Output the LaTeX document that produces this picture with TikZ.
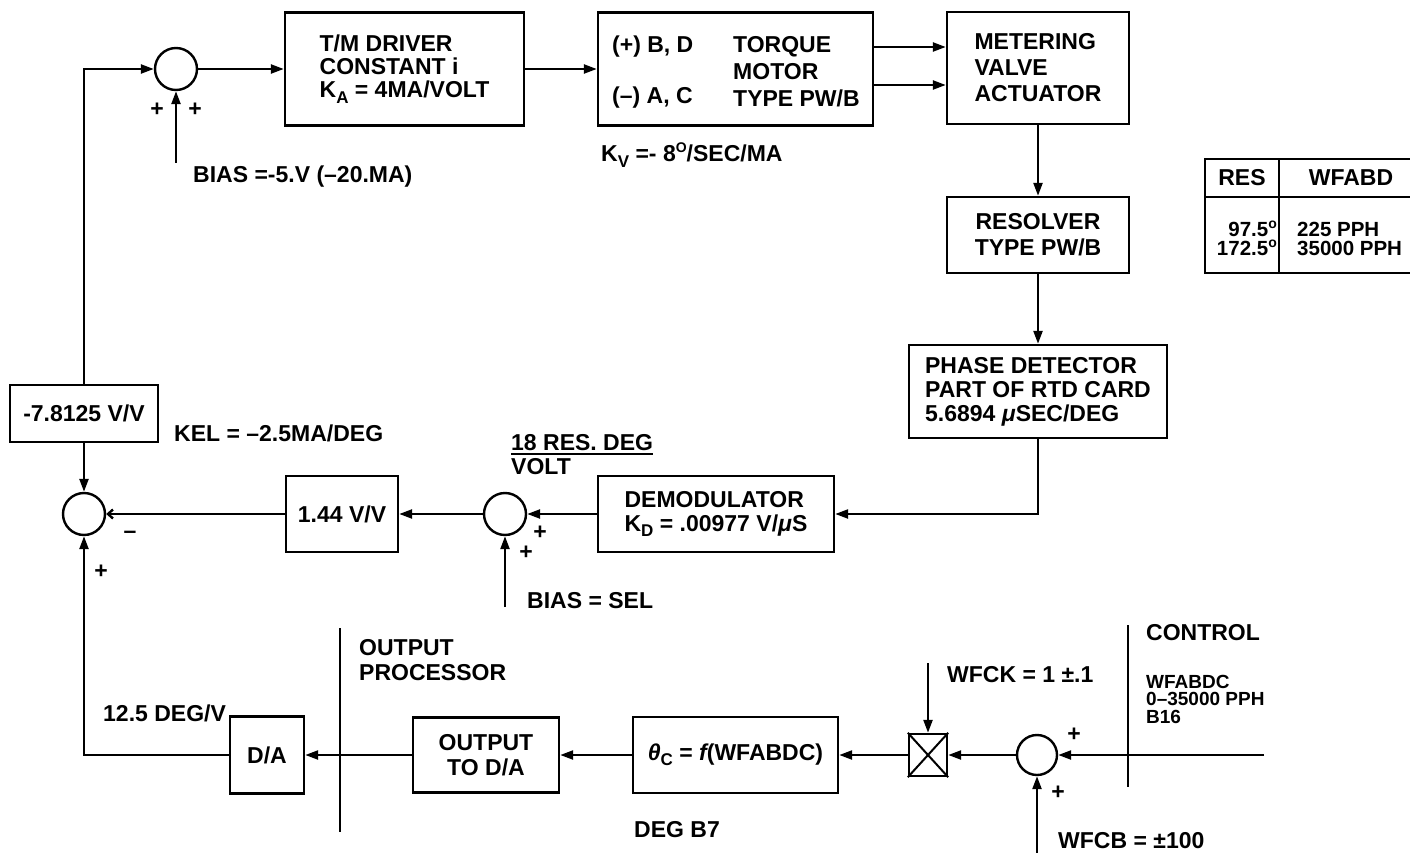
\documentclass[tikz,border=0pt]{standalone}
\usepackage{fontspec}
\setmainfont{Liberation Sans}
\usetikzlibrary{arrows.meta}
\newcommand\lsub[1]{\raisebox{-0.45ex}{\fontsize{17}{17}\selectfont #1}}
\newcommand\hsup[1]{\raisebox{0.75ex}{\fontsize{14}{14}\selectfont #1}}
\begin{document}
\begin{tikzpicture}[x=1pt,y=-1pt,
  every node/.style={font=\fontsize{23}{25}\selectfont\bfseries},
  blk/.style={draw, line width=2.4pt, rectangle, inner sep=0pt},
  sumc/.style={draw, line width=2.4pt, circle, minimum size=42pt, inner sep=0pt},
  lbl/.style={inner sep=0pt, anchor=west},
  sgn/.style={inner sep=0pt},
  tbl/.style={inner sep=0pt, font=\fontsize{20.5}{20}\selectfont\bfseries},
  con/.style={line width=2.4pt, -{Triangle[length=13pt,width=9pt]}},
  ln/.style={line width=2.4pt},
  sep/.style={line width=1.8pt},
]
\useasboundingbox (0,0) rectangle (1410,853);

% ---------- top row ----------
\node[sumc] (s1) at (176,69) {};
\node[blk, minimum width=239pt, minimum height=113pt, align=left,
      font=\fontsize{23}{23}\selectfont\bfseries] (tm) at (404.5,69)
      {T/M DRIVER\\CONSTANT i\\K\lsub{A} = 4MA/VOLT};
\node[blk, minimum width=275pt, minimum height=113pt] (tq) at (735.5,69) {};
\node[lbl] (tq1) at (612,47) {(+) B, D};
\node[lbl] (tq2) at (612,98) {(–) A, C};
\node[lbl] (tq3) at (733,47) {TORQUE};
\node[lbl] (tq4) at (733,72) {MOTOR};
\node[lbl] (tq5) at (733,98) {TYPE PW/B};
\node[blk, minimum width=182pt, minimum height=112pt, align=left,
      font=\fontsize{23}{26}\selectfont\bfseries] (mv) at (1038,68)
      {METERING\\VALVE\\ACTUATOR};
\node[blk, minimum width=182pt, minimum height=76pt, align=center,
      font=\fontsize{23}{26}\selectfont\bfseries] (rs) at (1038,235)
      {RESOLVER\\TYPE PW/B};
\node[blk, minimum width=258pt, minimum height=93pt, align=left,
      font=\fontsize{23}{24}\selectfont\bfseries] (pd) at (1038,391.5)
      {PHASE DETECTOR\\PART OF RTD CARD\\5.6894 {\itshape μ}SEC/DEG};

\node[sgn] (p1) at (157,110) {+};
\node[sgn] (p2) at (195,110) {+};
\coordinate (b1) at (176,163);
\node[lbl] (bias1) at (193,177) {BIAS =-5.V (–20.MA)};
\node[lbl] (kv) at (601,155) {K\lsub{V} =- 8\hsup{O}/SEC/MA};

% table
\draw[ln] (1412,159) -- (1205,159) -- (1205,273) -- (1412,273);
\draw[ln] (1205,197) -- (1412,197);
\draw[ln] (1279,159) -- (1279,273);
\node[sgn] (tres) at (1242,178) {RES};
\node[sgn] (twf) at (1351,178) {WFABD};
\node[tbl, anchor=east] (t1) at (1277,229) {97.5\hsup{o}};
\node[tbl, anchor=east] (t2) at (1277,248) {172.5\hsup{o}};
\node[tbl, anchor=west] (t3) at (1297,229) {225 PPH};
\node[tbl, anchor=west] (t4) at (1297,248) {35000 PPH};

% ---------- middle row ----------
\node[blk, minimum width=148pt, minimum height=57pt] (g78) at (84,413.5) {-7.8125 V/V};
\node[lbl] (kel) at (174,433) {KEL = –2.5MA/DEG};
\node[sumc] (s3) at (84,514) {};
\node[blk, minimum width=112pt, minimum height=76pt] (g144) at (342,514) {1.44 V/V};
\node[sumc] (s2) at (505,514) {};
\node[blk, minimum width=236pt, minimum height=76pt, align=left,
      font=\fontsize{23}{24}\selectfont\bfseries] (dm) at (716,514)
      {DEMODULATOR\\K\lsub{D} = .00977 V/{\itshape μ}S};
\node[lbl] (frn) at (511,443) {18 RES. DEG};
\draw[line width=2pt] ([yshift=-2.5pt]frn.south west) -- ([yshift=-2.5pt]frn.south east);
\node[lbl] (frd) at (511,467) {VOLT};
\node[sgn] (m1) at (130,535) {–};
\node[sgn] (p3) at (101,572) {+};
\node[sgn] (p4) at (540,533) {+};
\node[sgn] (p5) at (526,553) {+};
\coordinate (b2) at (505,607);
\node[lbl] (bias2) at (527,601) {BIAS = SEL};

% ---------- bottom row ----------
\node[blk, minimum width=74pt, minimum height=77pt] (da) at (267,755) {D/A};
\node[blk, minimum width=146pt, minimum height=75pt, align=center,
      font=\fontsize{23}{25}\selectfont\bfseries] (otd) at (486,755) {OUTPUT\\TO D/A};
\node[blk, minimum width=205pt, minimum height=76pt] (th) at (735.5,755)
      {{\itshape θ}\lsub{C} = {\itshape f}(WFABDC)};
\node[blk, minimum width=38pt, minimum height=42pt] (mul) at (928,755) {};
\draw[line width=2pt] (mul.north west) -- (mul.south east) (mul.north east) -- (mul.south west);
\node[sumc, minimum size=40pt] (s4) at (1037,755) {};
\coordinate (cin) at (1264,755);
\coordinate (wk) at (928,663);
\coordinate (wb) at (1037,853);

\node[lbl] (d125) at (103,713) {12.5 DEG/V};
\node[lbl, align=left] (op1) at (359,648) {OUTPUT};
\node[lbl, align=left] (op2) at (359,673) {PROCESSOR};
\node[lbl] (deg7) at (634,830) {DEG B7};
\node[lbl] (wfck) at (947,675) {WFCK = 1 ±.1};
\node[lbl] (wfcb) at (1058,841) {WFCB = ±100};
\node[sgn] (p6) at (1074,735) {+};
\node[sgn] (p7) at (1058,793) {+};
\node[lbl] (ctl) at (1146,633) {CONTROL};
\node[lbl, font=\fontsize{19}{19}\selectfont\bfseries] (c1) at (1146,682) {WFABDC};
\node[lbl, font=\fontsize{19}{19}\selectfont\bfseries] (c2) at (1146,699) {0–35000 PPH};
\node[lbl, font=\fontsize{19}{19}\selectfont\bfseries] (c3) at (1146,717) {B16};

\draw[sep] (340,628) -- (340,832);
\draw[sep] (1128,625) -- (1128,787);

% ---------- connectors ----------
\coordinate (ya) at (0,47);
\coordinate (yb) at (0,85);
\draw[con] (g78.north) |- (s1.west);
\draw[con] (b1) -- (s1.south);
\draw[con] (s1.east) -- (tm.west);
\draw[con] (tm.east) -- (tq.west);
\draw[con] (tq.east |- ya) -- (mv.west |- ya);
\draw[con] (tq.east |- yb) -- (mv.west |- yb);
\draw[con] (mv.south) -- (rs.north);
\draw[con] (rs.south) -- (pd.north);
\draw[con] (pd.south) |- (dm.east);
\draw[con] (dm.west) -- (s2.east);
\draw[con] (s2.west) -- (g144.east);
\draw[con] (b2) -- (s2.south);
\draw[ln, -{Straight Barb[length=5pt,width=9pt]}] (g144.west) -- (s3.east);
\draw[con] (g78.south) -- (s3.north);
\draw[con] (da.west) -| (s3.south);
\draw[con] (otd.west) -- (da.east);
\draw[con] (th.west) -- (otd.east);
\draw[con] (mul.west) -- (th.east);
\draw[con] (s4.west) -- (mul.east);
\draw[con] (cin) -- (s4.east);
\draw[con] (wk) -- (mul.north);
\draw[con] (wb) -- (s4.south);
\end{tikzpicture}
\end{document}
